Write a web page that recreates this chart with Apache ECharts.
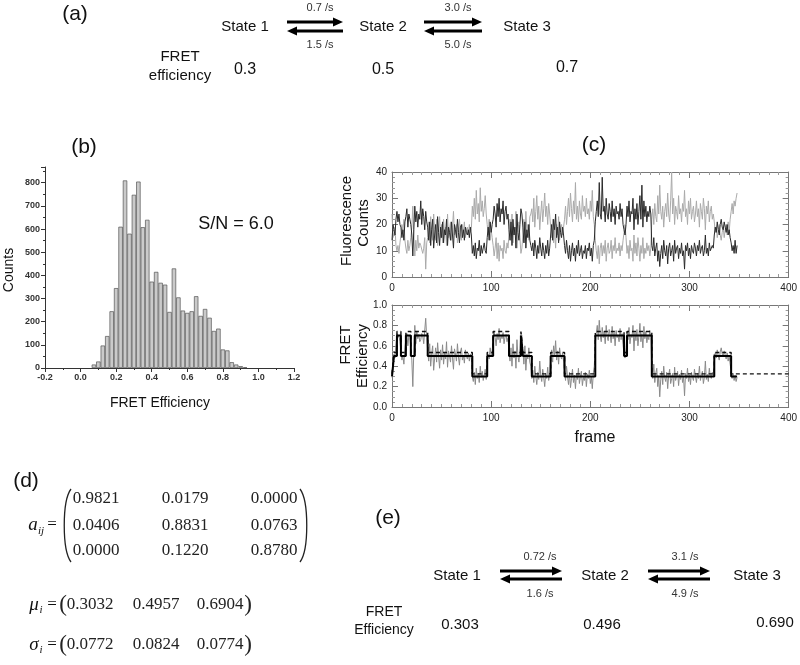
<!DOCTYPE html>
<html><head><meta charset="utf-8">
<script src="https://cdn.jsdelivr.net/npm/echarts@6/dist/echarts.min.js"></script>
<style>html,body{margin:0;padding:0;background:#fff}#c{width:800px;height:665px}</style>
</head><body><div id="c"></div>
<script>
// ---------- data ----------
const histBinCenters = [0.075,0.100,0.125,0.150,0.175,0.200,0.225,0.250,0.275,0.300,0.325,0.350,0.375,0.400,0.425,0.450,0.475,0.500,0.525,0.550,0.575,0.600,0.625,0.650,0.675,0.700,0.725,0.750,0.775,0.800,0.825,0.850,0.875,0.900,0.925];
const histCounts = [15,28,97,138,245,345,610,810,580,748,805,608,640,373,415,368,360,242,430,305,248,238,245,310,225,255,217,160,170,80,76,25,15,8,3];

// acceptor (dark) and donor (light) fluorescence counts per frame, frames 0..348
const acceptorCounts = [14,20,18,16,22,25,21,24,20,19,15,18,14,21,23,26,19,24,22,20,16,8,18,
27,21,25,19,24,22,29,20,26,23,18,25,21,
19,14,21,12,18,22,11,16,20,13,23,17,12,19,15,21,13,18,16,22,12,19,17,14,21,16,11,20,18,15,22,17,13,19,20,15,18,14,19,17,16,18,15,19,16,
9,12,8,13,7,11,10,14,8,12,9,11,13,10,9,
15,19,14,21,17,20,
22,27,24,19,28,23,30,21,26,24,29,20,25,27,22,24,
18,14,21,12,22,16,19,11,24,17,14,20,
26,24,
19,13,21,11,18,15,20,14,12,
10,13,8,14,11,7,12,9,15,11,8,13,10,7,12,9,14,8,11,
16,20,14,22,18,24,15,19,13,21,17,15,19,16,
12,9,14,10,7,12,6,10,13,8,11,6,12,9,14,8,10,12,7,10,9,12,7,11,10,13,8,11,6,12,14,
21,25,29,23,36,24,22,38,25,27,21,30,24,22,28,25,21,29,23,26,20,27,24,25,22,28,23,26,20,
18,16,20,
27,23,29,21,25,24,30,18,26,22,28,20,25,31,22,35,19,29,23,27,21,25,23,27,24,
12,10,15,8,11,13,6,10,4,9,12,7,14,10,8,12,5,11,13,8,10,12,6,14,9,11,12,7,11,9,13,8,10,3,12,10,13,8,11,7,12,10,9,13,11,8,12,10,14,9,11,12,8,10,16,9,11,8,13,10,10,12,11,
16,19,17,21,18,16,20,22,19,18,21,19,17,20,16,18,15,
13,10,12,9,14,9,12];
const donorCounts = [24,15,17,19,12,10,12,9,13,16,20,17,22,14,11,9,14,10,12,15,19,27,16,
8,14,10,16,11,13,12,12,9,11,15,3,13,
15,21,13,23,17,14,24,18,14,22,12,17,23,15,20,13,22,16,19,12,24,15,18,21,14,19,25,16,17,20,13,18,22,16,14,20,17,21,15,18,19,16,20,17,18,
27,23,30,22,33,24,28,21,34,25,29,23,26,31,24,
20,16,22,14,18,15,
12,8,11,15,7,13,6,12,10,11,7,14,10,9,13,11,
17,22,14,24,13,19,16,25,11,18,21,15,
9,11,
16,22,13,25,17,20,14,23,24,
26,21,30,19,25,31,22,27,18,24,29,21,26,32,23,27,20,28,24,
19,15,22,13,18,11,20,16,23,14,18,20,16,19,
22,27,20,25,30,23,32,26,21,29,24,36,22,27,21,29,24,22,31,25,27,23,30,24,26,22,29,25,33,23,20,
14,10,7,12,5,11,13,8,12,9,14,6,11,13,9,10,14,7,12,10,15,9,11,10,13,8,12,10,14,
17,20,15,
9,12,7,14,10,11,6,16,9,13,8,15,11,6,12,9,15,7,11,9,13,10,12,8,11,
22,26,20,28,23,21,31,24,35,25,22,27,19,25,28,23,32,24,21,29,40,24,30,20,27,25,22,31,24,26,21,28,25,33,23,26,20,29,24,30,22,25,27,21,24,29,23,26,19,28,25,22,30,26,18,27,24,29,21,25,27,22,24,
21,17,19,15,18,20,16,14,17,19,15,18,20,16,21,17,22,
25,28,24,29,27,30,32];
const fretTrace = [0.29,0.36,0.52,0.48,0.62,0.72,0.68,0.70,0.64,0.55,0.46,0.50,0.42,0.58,0.66,0.72,0.60,0.70,0.68,0.58,0.46,0.20,0.55,
0.80,0.62,0.74,0.67,0.71,0.64,0.66,0.72,0.70,0.62,0.75,0.87,0.68,
0.55,0.45,0.62,0.40,0.52,0.60,0.36,0.48,0.58,0.44,0.63,0.50,0.38,0.56,0.46,0.61,0.42,0.53,0.47,0.64,0.39,0.55,0.50,0.44,0.60,0.48,0.37,0.57,0.52,0.45,0.62,0.49,0.41,0.54,0.58,0.46,0.51,0.43,0.56,0.50,0.47,0.53,0.45,0.52,0.48,
0.30,0.25,0.34,0.22,0.38,0.28,0.33,0.24,0.40,0.29,0.35,0.26,0.31,0.37,0.27,
0.44,0.52,0.47,0.58,0.50,0.55,
0.65,0.74,0.68,0.60,0.72,0.66,0.77,0.63,0.70,0.67,0.73,0.62,0.69,0.71,0.64,0.68,
0.52,0.45,0.58,0.40,0.62,0.48,0.55,0.38,0.66,0.50,0.44,0.57,
0.73,0.70,
0.55,0.42,0.60,0.36,0.52,0.47,0.58,0.44,0.40,
0.28,0.36,0.24,0.40,0.30,0.22,0.34,0.27,0.45,0.31,0.25,0.37,0.29,0.20,0.33,0.28,0.39,0.26,0.32,
0.48,0.56,0.44,0.60,0.51,0.65,0.46,0.55,0.42,0.58,0.50,0.47,0.53,0.45,
0.35,0.26,0.40,0.30,0.22,0.34,0.19,0.28,0.37,0.24,0.31,0.18,0.33,0.27,0.38,0.23,0.30,0.35,0.21,0.29,0.26,0.34,0.20,0.32,0.28,0.36,0.23,0.30,0.18,0.33,0.40,
0.62,0.72,0.80,0.66,0.85,0.70,0.64,0.78,0.68,0.74,0.62,0.80,0.69,0.65,0.76,0.71,0.63,0.79,0.67,0.73,0.60,0.75,0.68,0.70,0.64,0.77,0.66,0.72,0.61,
0.52,0.48,0.58,
0.74,0.66,0.78,0.62,0.71,0.68,0.80,0.55,0.73,0.65,0.76,0.60,0.70,0.82,0.64,0.72,0.58,0.79,0.67,0.74,0.63,0.70,0.66,0.75,0.68,
0.36,0.28,0.42,0.24,0.33,0.38,0.20,0.30,0.10,0.27,0.35,0.22,0.40,0.29,0.25,0.34,0.18,0.31,0.37,0.23,0.28,0.33,0.20,0.39,0.26,0.30,0.35,0.21,0.32,0.27,0.36,0.24,0.30,0.11,0.33,0.28,0.38,0.25,0.31,0.22,0.34,0.29,0.26,0.37,0.30,0.24,0.33,0.28,0.40,0.26,0.31,0.35,0.23,0.29,0.45,0.27,0.32,0.25,0.38,0.30,0.28,0.34,0.31,
0.44,0.53,0.48,0.56,0.50,0.46,0.54,0.58,0.52,0.49,0.55,0.51,0.47,0.53,0.45,0.50,0.42,
0.35,0.28,0.33,0.26,0.31,0.25,0.29];

// state path: start frame of each dwell and its state (1..3)
const pathStarts = [0,2,5,9,14,19,23,36,81,96,102,118,130,132,141,160,174,205,234,237,262,325,342];
const pathStates = [1,2,3,2,3,2,3,2,1,2,3,2,3,2,1,2,1,3,2,3,1,2,1];
const pathEnd = 348;
const fitLevels = [0.30, 0.50, 0.70];      // solid line
const trueLevels = [0.325, 0.535, 0.74];   // dashed line
const dashedEnd = 400;

// ---------- build ----------
function stepPairs(levels, endFrame) {
  const pts = [];
  for (let i = 0; i < pathStarts.length; i++) {
    const v = levels[pathStates[i] - 1];
    const s = pathStarts[i];
    const e = i + 1 < pathStarts.length ? pathStarts[i + 1] : endFrame;
    pts.push([s, v], [e, v]);
  }
  return pts;
}
const solidPath = stepPairs(fitLevels, pathEnd);
const dashedPath = stepPairs(trueLevels, pathEnd);
dashedPath.push([dashedEnd, trueLevels[pathStates[pathStates.length - 1] - 1]]);

const SANS = '"Liberation Sans", Arial, Helvetica, sans-serif';
const SERIF = '"Liberation Serif", "Times New Roman", serif';

function boxX(grid, pos, showLabel) {
  return {type:'value', gridIndex:grid, position:pos, min:0, max:400, interval:100,
    axisLine:{show:true, onZero:false, lineStyle:{color:'#777', width:1}},
    axisTick:{show:true, inside:true, length:6, lineStyle:{color:'#777'}},
    minorTick:{show:true, splitNumber:10, length:3, lineStyle:{color:'#999'}},
    axisLabel:{show:showLabel, color:'#222', fontSize:10, margin:6, fontFamily:SANS},
    splitLine:{show:false}};
}
function boxY(grid, pos, min, max, interval, minorSplit, showLabel, fmt) {
  return {type:'value', gridIndex:grid, position:pos, min, max, interval,
    axisLine:{show:true, onZero:false, lineStyle:{color:'#777', width:1}},
    axisTick:{show:true, inside:true, length:6, lineStyle:{color:'#777'}},
    minorTick:{show:true, splitNumber:minorSplit, length:3, lineStyle:{color:'#999'}},
    axisLabel:{show:showLabel, color:'#222', fontSize:10, margin:5, fontFamily:SANS, formatter:fmt},
    splitLine:{show:false}};
}

function txt(s, x, y, font, opt) {
  opt = opt || {};
  const a = opt.align || 'center';
  return {type:'text', x, y, rotation: opt.rot || 0, silent:true,
    style:{text:s, font, fill: opt.fill || '#111', align:a, verticalAlign:'middle', textAlign:a, textVerticalAlign:'middle'}};
}
function arrow(x1, x2, y) {
  const dir = x2 > x1 ? 1 : -1;
  return [
    {type:'line', silent:true, shape:{x1, y1:y, x2:x2 - dir*6, y2:y}, style:{stroke:'#000', lineWidth:3}},
    {type:'polygon', silent:true, shape:{points:[[x2, y], [x2 - dir*10, y - 4.5], [x2 - dir*10, y + 4.5]]}, style:{fill:'#000'}}
  ];
}
function paren(x, yTop, yBot, dir) {
  return {type:'bezierCurve', silent:true,
    shape:{x1:x, y1:yTop, cpx1:x - dir*9, cpy1:yTop + 12, cpx2:x - dir*9, cpy2:yBot - 12, x2:x, y2:yBot},
    style:{stroke:'#222', lineWidth:1.3, fill:null}};
}

const graphics = [];
// panel (a)
graphics.push(txt('(a)', 75, 14, '21px ' + SANS));
graphics.push(txt('State 1', 245, 27, '15px ' + SANS));
graphics.push(txt('State 2', 383, 27, '15px ' + SANS));
graphics.push(txt('State 3', 527, 27, '15px ' + SANS));
graphics.push(...arrow(287, 343, 22), ...arrow(343, 287, 31));
graphics.push(...arrow(424, 482, 22), ...arrow(482, 424, 31));
graphics.push(txt('0.7 /s', 320, 8, '11px ' + SANS, {fill:'#333'}));
graphics.push(txt('1.5 /s', 320, 45, '11px ' + SANS, {fill:'#333'}));
graphics.push(txt('3.0 /s', 458, 8, '11px ' + SANS, {fill:'#333'}));
graphics.push(txt('5.0 /s', 458, 45, '11px ' + SANS, {fill:'#333'}));
graphics.push(txt('FRET', 180, 57, '15px ' + SANS));
graphics.push(txt('efficiency', 180, 76, '15px ' + SANS));
graphics.push(txt('0.3', 245, 70, '16px ' + SANS));
graphics.push(txt('0.5', 383, 70, '16px ' + SANS));
graphics.push(txt('0.7', 567, 68, '16px ' + SANS));
// panel (b) and (c) labels
graphics.push(txt('(b)', 84, 147, '21px ' + SANS));
graphics.push(txt('S/N = 6.0', 236, 224, '18px ' + SANS));
graphics.push(txt('Counts', 9, 270, '14px ' + SANS, {rot:Math.PI/2}));
graphics.push(txt('FRET Efficiency', 160, 403, '14px ' + SANS));
graphics.push(txt('(c)', 594, 145, '21px ' + SANS));
graphics.push(txt('Fluorescence', 347, 221, '15px ' + SANS, {rot:Math.PI/2}));
graphics.push(txt('Counts', 364, 223, '15px ' + SANS, {rot:Math.PI/2}));
graphics.push(txt('FRET', 346, 345, '15px ' + SANS, {rot:Math.PI/2}));
graphics.push(txt('Efficiency', 363, 356, '15px ' + SANS, {rot:Math.PI/2}));
graphics.push(txt('frame', 595, 438, '16px ' + SANS));
// panel (d)
graphics.push(txt('(d)', 26, 481, '21px ' + SANS));
graphics.push(txt('a', 33, 525, 'italic 19px ' + SERIF));
graphics.push(txt('ij', 41, 531, 'italic 11px ' + SERIF));
graphics.push(txt('=', 52, 525, '17px ' + SERIF));
graphics.push(paren(71, 489, 562, 1), paren(300, 489, 562, -1));
const matrixRows = [['0.9821','0.0179','0.0000'],['0.0406','0.8831','0.0763'],['0.0000','0.1220','0.8780']];
const matrixColX = [96, 185, 274], matrixRowY = [499, 526, 551];
matrixRows.forEach((r, i) => r.forEach((v, j) => graphics.push(txt(v, matrixColX[j], matrixRowY[i], '17px ' + SERIF, {fill:'#222'}))));
const muVals = ['0.3032','0.4957','0.6904'];
const sigmaVals = ['0.0772','0.0824','0.0774'];
const vecX = [90, 156, 220];
[[String.fromCharCode(956), muVals, 605], [String.fromCharCode(963), sigmaVals, 645]].forEach(([sym, vals, y]) => {
  graphics.push(txt(sym, 34, y, 'italic 19px ' + SERIF));
  graphics.push(txt('i', 41, y + 5, 'italic 11px ' + SERIF));
  graphics.push(txt('=', 52, y, '17px ' + SERIF));
  graphics.push(txt('(', 63, y, '23px ' + SERIF, {fill:'#222'}));
  vals.forEach((v, j) => graphics.push(txt(v, vecX[j], y, '17px ' + SERIF, {fill:'#222'})));
  graphics.push(txt(')', 248, y, '23px ' + SERIF, {fill:'#222'}));
});
// panel (e)
graphics.push(txt('(e)', 388, 518, '21px ' + SANS));
graphics.push(txt('State 1', 457, 576, '15px ' + SANS));
graphics.push(txt('State 2', 605, 576, '15px ' + SANS));
graphics.push(txt('State 3', 757, 576, '15px ' + SANS));
graphics.push(...arrow(500, 562, 571), ...arrow(562, 500, 579));
graphics.push(...arrow(648, 710, 571), ...arrow(710, 648, 579));
graphics.push(txt('0.72 /s', 540, 557, '11px ' + SANS, {fill:'#333'}));
graphics.push(txt('1.6 /s', 540, 594, '11px ' + SANS, {fill:'#333'}));
graphics.push(txt('3.1 /s', 685, 557, '11px ' + SANS, {fill:'#333'}));
graphics.push(txt('4.9 /s', 685, 594, '11px ' + SANS, {fill:'#333'}));
graphics.push(txt('FRET', 384, 612, '14px ' + SANS));
graphics.push(txt('Efficiency', 384, 630, '14px ' + SANS));
graphics.push(txt('0.303', 460, 625, '15px ' + SANS));
graphics.push(txt('0.496', 602, 625, '15px ' + SANS));
graphics.push(txt('0.690', 775, 623, '15px ' + SANS));

const histLabel = {color:'#333', fontSize:9, fontWeight:'bold', fontFamily:SANS};
const option = {
  animation:false,
  backgroundColor:'#fff',
  grid:[
    {left:45, top:167, width:249, height:201},
    {left:392, top:172, width:400, height:105},
    {left:392, top:305, width:400, height:102}
  ],
  xAxis:[
    {type:'value', gridIndex:0, min:-0.2, max:1.2, interval:0.2,
      axisLine:{show:true, onZero:false, lineStyle:{color:'#333'}},
      axisTick:{show:true, length:4, lineStyle:{color:'#333'}},
      minorTick:{show:true, splitNumber:2, length:2, lineStyle:{color:'#333'}},
      axisLabel:Object.assign({margin:5, formatter:v => v.toFixed(1)}, histLabel),
      splitLine:{show:false}},
    boxX(1, 'bottom', true), boxX(1, 'top', false),
    boxX(2, 'bottom', true), boxX(2, 'top', false)
  ],
  yAxis:[
    {type:'value', gridIndex:0, min:0, max:868, interval:100,
      axisLine:{show:true, onZero:false, lineStyle:{color:'#333'}},
      axisTick:{show:true, length:4, lineStyle:{color:'#333'}},
      minorTick:{show:true, splitNumber:2, length:2, lineStyle:{color:'#333'}},
      axisLabel:Object.assign({margin:5, showMaxLabel:false}, histLabel),
      splitLine:{show:false}},
    boxY(1, 'left', 0, 40, 10, 5, true), boxY(1, 'right', 0, 40, 10, 5, false),
    boxY(2, 'left', 0, 1, 0.2, 4, true, v => v.toFixed(1)), boxY(2, 'right', 0, 1, 0.2, 4, false)
  ],
  series:[
    {type:'bar', xAxisIndex:0, yAxisIndex:0, barWidth:4.4,
      data:histBinCenters.map((x, i) => [x, histCounts[i]]),
      itemStyle:{color:'#cacaca', borderColor:'#555', borderWidth:0.7}},
    {type:'line', xAxisIndex:1, yAxisIndex:1, showSymbol:false, symbol:'none',
      data:donorCounts.map((v, i) => [i, v]), lineStyle:{color:'#aaaaaa', width:1}},
    {type:'line', xAxisIndex:1, yAxisIndex:1, showSymbol:false, symbol:'none',
      data:acceptorCounts.map((v, i) => [i, v]), lineStyle:{color:'#2a2a2a', width:1}},
    {type:'line', xAxisIndex:3, yAxisIndex:3, showSymbol:false, symbol:'none',
      data:fretTrace.map((v, i) => [i, v]), lineStyle:{color:'#8a8a8a', width:1}},
    {type:'line', xAxisIndex:3, yAxisIndex:3, showSymbol:false, symbol:'none',
      data:dashedPath, lineStyle:{color:'#111', width:1.4, type:[4,3]}},
    {type:'line', xAxisIndex:3, yAxisIndex:3, showSymbol:false, symbol:'none',
      data:solidPath, lineStyle:{color:'#000', width:2}}
  ],
  graphic:graphics
};
const chart = echarts.init(document.getElementById('c'), null, {renderer:'canvas'});
chart.setOption(option);
</script>
</body></html>
